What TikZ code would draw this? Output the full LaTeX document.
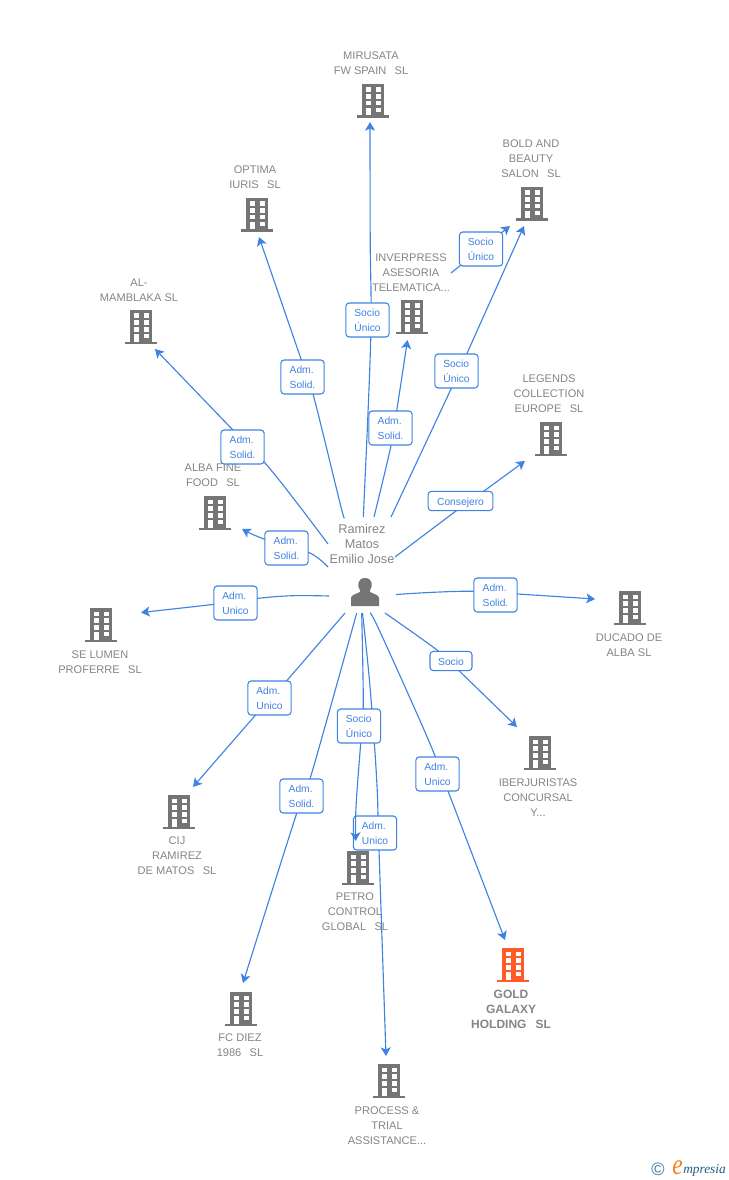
\documentclass[tikz,border=0pt]{standalone}
\usepackage{fontspec}
\setmainfont{Liberation Sans}
\newfontfamily\logofont{Liberation Serif}
\usetikzlibrary{arrows.meta,backgrounds}
\definecolor{linkblue}{HTML}{3F83E2}
\definecolor{txtgrey}{HTML}{858585}
\definecolor{bldgrey}{HTML}{757575}
\definecolor{bldorange}{HTML}{FF5A28}
\definecolor{logoteal}{HTML}{3B7A99}
\definecolor{logoink}{HTML}{1F5F7A}
\definecolor{logoorange}{HTML}{F58220}
\newcommand{\dsp}{\hspace{.75em}}
\tikzset{
  x=0.75pt,y=-0.75pt,
  conn/.style={draw=linkblue,line width=0.85pt,-{Stealth[length=6.5pt,width=7.5pt,inset=1.6pt]}},
  rolebox/.style={draw=linkblue,line width=0.8pt,fill=white,rounded corners=2.5pt,inner sep=0pt,
    minimum width=32.5pt,minimum height=25.5pt,align=left,text=linkblue,
    font=\fontsize{7.7}{11.25}\selectfont},
  rolesingle/.style={rolebox,minimum height=14.5pt,text height=6pt,text depth=0pt},
  company/.style={text=txtgrey,align=center,inner sep=0pt,font=\fontsize{8.3}{11.25}\selectfont},
  companybold/.style={text=txtgrey,align=center,inner sep=0pt,font=\fontsize{9}{11.25}\selectfont\bfseries},
  personname/.style={text=txtgrey,align=center,inner sep=0pt,font=\fontsize{9.5}{11.25}\selectfont},
  pics/bld/.style={code={
    \fill[#1] (-11,-17) rectangle (11,15);
    \fill[#1] (-16,14.5) rectangle (16,17);
    \fill[white] (-7,-13.5) rectangle (-2,-8.7);
    \fill[white] (3,-13.5) rectangle (8,-8.7);
    \fill[white] (-7,-6.7) rectangle (-2,-2.2);
    \fill[white] (3,-6.7) rectangle (8,-2.2);
    \fill[white] (-7,0) rectangle (-2,4.5);
    \fill[white] (3,0) rectangle (8,4.5);
    \fill[white] (-7,6.8) rectangle (-2,14.5);
    \fill[white] (3,6.8) rectangle (8,11);
  }}
}
\begin{document}
\begin{tikzpicture}
\useasboundingbox (0,0) rectangle (728,1180);

% buildings
\foreach \nm/\px/\py in {bMir/373/101,bOpt/257/215,bMam/141/327,bAlb/215/513,bBol/532/204,bInv/412/317,bLeg/551/439,bDuc/630/608,bSel/101/625,bIbe/540/753,bCij/179/812,bPet/358/868,bFcd/241/1009,bPro/389/1081}{
  \coordinate (\nm) at (\px,\py);
  \pic at (\nm) {bld=bldgrey};
}
\coordinate (bGol) at (513,965);
\pic at (bGol) {bld=bldorange};

% company names
\node[company] (nMir) at (371,63) {MIRUSATA\\FW SPAIN\dsp SL};
\node[company] (nOpt) at (255,177) {OPTIMA\\IURIS\dsp SL};
\node[company] (nMam) at (139,290) {AL-\\MAMBLAKA SL};
\node[company] (nAlb) at (213,475) {ALBA FINE\\FOOD\dsp SL};
\node[company] (nBol) at (531,159) {BOLD AND\\BEAUTY\\SALON\dsp SL};
\node[company] (nInv) at (411,273) {INVERPRESS\\ASESORIA\\TELEMATICA...};
\node[company] (nLeg) at (549,394) {LEGENDS\\COLLECTION\\EUROPE\dsp SL};
\node[company] (nDuc) at (629,645) {DUCADO DE\\ALBA SL};
\node[company] (nSel) at (100,662) {SE LUMEN\\PROFERRE\dsp SL};
\node[company] (nIbe) at (538,798) {IBERJURISTAS\\CONCURSAL\\Y...};
\node[company] (nCij) at (177,856) {CIJ\\RAMIREZ\\DE MATOS\dsp SL};
\node[company] (nPet) at (355,912) {PETRO\\CONTROL\\GLOBAL\dsp SL};
\node[companybold] (nGol) at (511,1009) {GOLD\\GALAXY\\HOLDING\dsp SL};
\node[company] (nFcd) at (240,1045) {FC DIEZ\\1986\dsp SL};
\node[company] (nPro) at (387,1126) {PROCESS \&\\TRIAL\\ASSISTANCE...};

% person
\node[personname] (person) at (362,544) {Ramirez\\Matos\\Emilio Jose};
\fill[bldgrey] (351,606) -- (351,598) .. controls (351,595) and (356,594) .. (360,592) -- (360,590)
  .. controls (357,587) and (357,578) .. (365,578) .. controls (373,578) and (373,587) .. (370,590)
  -- (370,592) .. controls (374,594) and (379,595) .. (379,598) -- (379,606) -- cycle;

% role boxes
\node[rolebox] (lMir) at (367.5,320) {Socio\\Único};
\node[rolebox] (lOpt) at (302.5,377) {Adm.\\Solid.};
\node[rolebox] (lMam) at (242.5,447) {Adm.\\Solid.};
\node[rolebox] (lAlb) at (286.5,548) {Adm.\\Solid.};
\node[rolebox] (lSel) at (235.5,603) {Adm.\\Unico};
\node[rolebox] (lCij) at (269.5,698) {Adm.\\Unico};
\node[rolebox] (lFcd) at (301.5,796) {Adm.\\Solid.};
\node[rolebox] (lPro) at (375,833) {Adm.\\Unico};
\node[rolebox] (lGol) at (437.5,774) {Adm.\\Unico};
\node[rolesingle,minimum width=31.5pt] (lIbe) at (451,661) {Socio};
\node[rolebox] (lDuc) at (495.5,595) {Adm.\\Solid.};
\node[rolesingle,minimum width=48.5pt] (lLeg) at (460.5,501) {Consejero};
\node[rolebox] (lBo2) at (456.5,371) {Socio\\Único};
\node[rolebox] (lInv) at (390.5,428) {Adm.\\Solid.};
\node[rolebox] (lBo1) at (481,249) {Socio\\Único};

% connector ends
\foreach \nm/\px/\py in {
  sMir/363.3/517,tMir/370/122,
  sOpt/344/517,tOpt/259/237,
  sMam/328/544,tMam/155/349,
  sAlb/328/567,tAlb/242/529,
  sSel/329/596,tSel/141/612.5,
  sCij/345/613,tCij/193/787,
  sFcd/356.7/613,tFcd/243/983,
  sPet/361.7/613,tPet/355.7/841,
  sPro/362.5/613,tPro/386/1056,
  sGol/370/613,tGol/505/940,
  sIbe/385/613,tIbe/517/727,
  sDuc/396/594.5,tDuc/595/599,
  sLeg/395/557,tLeg/525/461,
  sBo2/391/517,tBo2/524/226,
  sInv/374/517,tInv/407.5/340,
  sBo1/451/273,tBo1/510/226,
  vPet/359/726}{\coordinate (\nm) at (\px,\py);}

\begin{scope}[on background layer,smooth,tension=0.6]
\draw[conn] plot coordinates {(sMir) (370.7,340) (370.2,240) (tMir)};
\draw[conn] plot coordinates {(sOpt) (340,503) (313,394) (301,359) (tOpt)};
\draw[conn] plot coordinates {(sMam) (297,503) (265,463) (231,428) (tMam)};
\draw[conn] plot coordinates {(sAlb) (308,552) (264,539) (tAlb)};
\draw[conn] plot coordinates {(sSel) (293,595.7) (258.3,598.3) (214,604.3) (tSel)};
\draw[conn] plot coordinates {(sCij) (286.7,680.7) (255,715.7) (tCij)};
\draw[conn] plot coordinates {(sFcd) (310,779) (296.7,813.3) (tFcd)};
\draw[conn] plot coordinates {(sPro) (370,686.7) (376.7,780) (379,850) (tPro)};
\draw[conn] plot coordinates {(sGol) (380,631.7) (428,739) (448,791) (tGol)};
\draw[conn] plot coordinates {(sIbe) (438.3,651) (459,670.7) (tIbe)};
\draw[conn] plot coordinates {(sDuc) (433,592.3) (473.3,591.3) (517.3,594) (tDuc)};
\draw[conn] plot coordinates {(sLeg) (456,511) (484,491) (tLeg)};
\draw[conn] plot coordinates {(sBo2) (451,389) (466.7,354) (tBo2)};
\draw[conn] plot coordinates {(sInv) (391,445.7) (396.7,410.7) (tInv)};
\draw[conn] plot coordinates {(sBo1) (481,249) (tBo1)};
\end{scope}
% drawn over the neighbouring box, as in the reference
\draw[conn,smooth,tension=0.6] plot coordinates {(sPet) (363.3,708) (360.7,743) (356,807) (tPet)};
\node[rolebox] (lPet) at (vPet) {Socio\\Único};

% logo
\node[text=logoteal,inner sep=0pt,font=\fontsize{13.5}{14}\selectfont] (logoC) at (658,1169) {©};
\node[text=logoorange,inner sep=0pt,xscale=.8,font=\logofont\itshape\fontsize{22}{22}\selectfont] (logoE) at (677.5,1167.5) {e};
\node[text=logoink,inner sep=0pt,anchor=west,font=\logofont\itshape\fontsize{10}{10}\selectfont] (logoT) at (683,1170) {mpresia};
\end{tikzpicture}
\end{document}
